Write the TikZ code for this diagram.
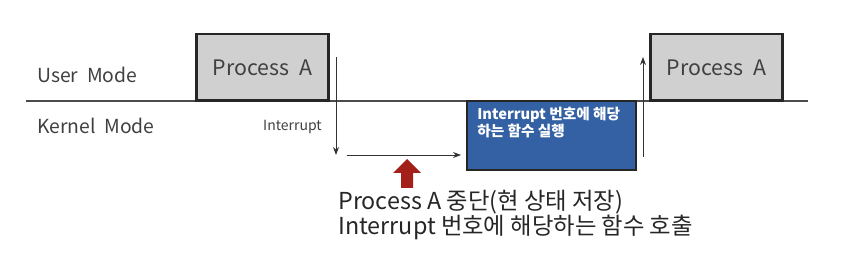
\documentclass[tikz,border=0pt]{standalone}
\usepackage{fontspec}
\setmainfont{Noto Sans CJK KR}
\usetikzlibrary{arrows.meta}
\definecolor{procgray}{HTML}{D0D0D0}
\definecolor{isrblue}{HTML}{3461A3}
\definecolor{darkred}{HTML}{A3201A}
\definecolor{txtgray}{HTML}{404040}
\tikzset{
  procbox/.style={draw=black!85,line width=2pt,fill=procgray,minimum width=99pt,minimum height=50pt,inner sep=0pt,text=txtgray,font=\fontsize{16}{18}\selectfont},
  modelabel/.style={anchor=base west,inner sep=0pt,text=txtgray,font=\fontsize{14.5}{16}\selectfont},
  flow/.style={draw=black!80,line width=0.7pt,-{Stealth[length=6pt,width=4.5pt]}}
}
\begin{document}
\begin{tikzpicture}[x=0.75pt,y=-0.75pt]
\useasboundingbox (0,0) rectangle (858,274);

% mode boundary
\draw[black!70,line width=1.5pt] (26,101) -- (808,101);
\node[modelabel] (user) at (37,83) {User\ \ Mode};
\node[modelabel] (kernel) at (37,134) {Kernel\ \ Mode};

% user processes
\node[procbox] (procA) at (262.5,67.5) {Process\ \ A};
\node[procbox] (procB) at (716.5,67.5) {Process\ \ A};

% interrupt handler
\draw[black!85,line width=1.2pt,fill=isrblue] (467,101) rectangle (636,170);
\node[anchor=north west,text=white,font=\bfseries\fontsize{11}{12.5}\selectfont,align=left,inner sep=0pt] (isr) at (477,107) {Interrupt 번호에 해당\\하는 함수 실행};

\node[anchor=base east,inner sep=0pt,text=txtgray,font=\fontsize{10.5}{12}\selectfont] (intr) at (322,131) {Interrupt};

% transitions
\coordinate (downtop) at (336,57);
\coordinate (downbot) at (336,155);
\coordinate (callend) at (461,155);
\coordinate (upbot) at (643,157);
\coordinate (uptop) at (643,57);
\draw[flow] (downtop) -- (downbot);
\draw[flow,shorten <=8pt] (downbot) -- (callend);
\draw[flow] (upbot) -- (uptop);

% red marker
\fill[darkred] (407,159) -- (421,173) -- (413,173) -- (413,188) -- (401,188) -- (401,173) -- (393,173) -- cycle;

\node[anchor=base west,inner sep=0pt,text=black!85,font=\fontsize{17.5}{20}\selectfont] (stop) at (338,210) {Process A 중단(현 상태 저장)};
\node[anchor=base west,inner sep=0pt,text=black!85,font=\fontsize{17.5}{20}\selectfont] (call) at (338,235) {Interrupt 번호에 해당하는 함수 호출};
\end{tikzpicture}
\end{document}
